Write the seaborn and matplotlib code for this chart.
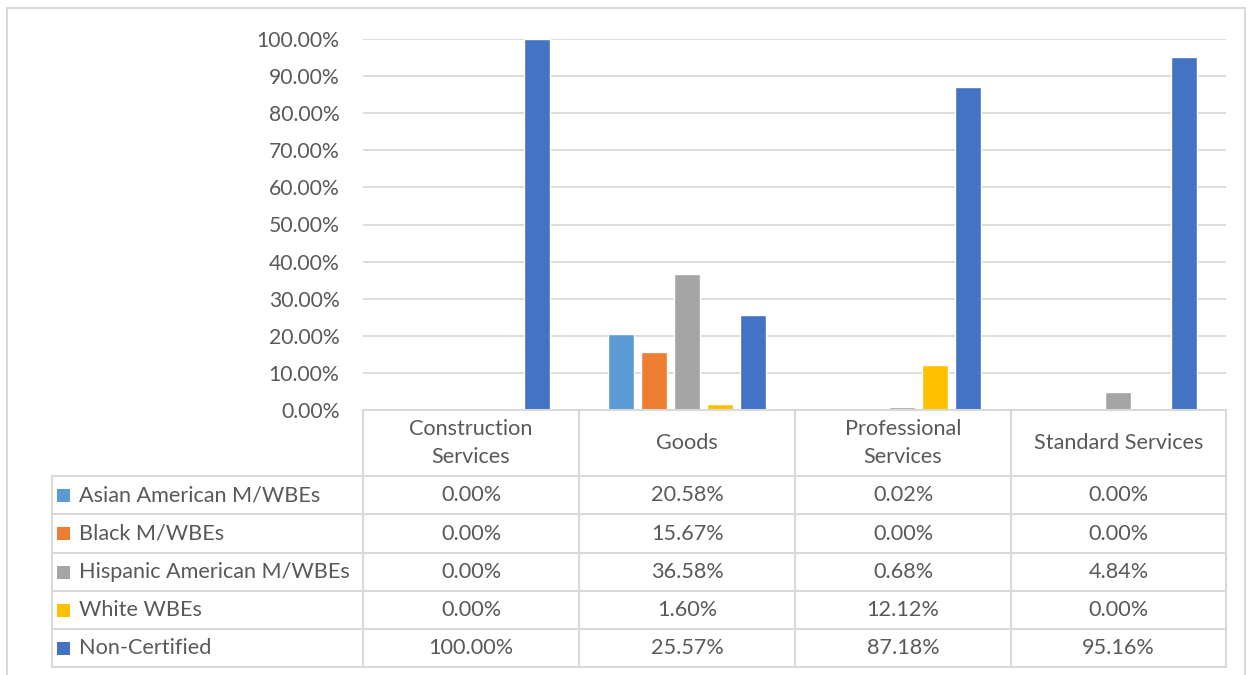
import matplotlib
matplotlib.use("Agg")
import matplotlib.pyplot as plt
from matplotlib.lines import Line2D
from matplotlib.patches import Rectangle
import seaborn as sns
import pandas as pd

# Spend share by work category and firm group
categories = ["Construction Services", "Goods", "Professional Services", "Standard Services"]
header_labels = ["Construction\nServices", "Goods", "Professional\nServices", "Standard Services"]
groups = ["Asian American M/WBEs", "Black M/WBEs", "Hispanic American M/WBEs", "White WBEs", "Non-Certified"]
asian_american = [0.00, 20.58, 0.02, 0.00]
black = [0.00, 15.67, 0.00, 0.00]
hispanic_american = [0.00, 36.58, 0.68, 4.84]
white_wbe = [0.00, 1.60, 12.12, 0.00]
non_certified = [100.00, 25.57, 87.18, 95.16]
y_ticks = [0, 10, 20, 30, 40, 50, 60, 70, 80, 90, 100]

colors = ["#5B9BD5", "#ED7D31", "#A5A5A5", "#FFC000", "#4472C4"]
text_color = "#595959"
line_color = "#D9D9D9"

series = [asian_american, black, hispanic_american, white_wbe, non_certified]
rows = []
for g, vals in zip(groups, series):
    for c, v in zip(categories, vals):
        rows.append({"Category": c, "Group": g, "Share": v})
df = pd.DataFrame(rows)

sns.set_theme(style="white")
plt.rcParams["font.family"] = ["Lato", "DejaVu Sans"]

W, H = 1252, 675
fig = plt.figure(figsize=(W / 100, H / 100), dpi=100)


def fx(px):
    return px / W


def fy(py):
    return 1 - py / H


ax_left, ax_right, ax_top, ax_bottom = 363, 1226, 39, 410
ax = fig.add_axes([fx(ax_left), fy(ax_bottom), fx(ax_right - ax_left), fy(ax_top) - fy(ax_bottom)])

sns.barplot(data=df, x="Category", y="Share", hue="Group", order=categories, hue_order=groups,
            palette=colors, width=0.764, gap=0.21, saturation=1, ax=ax, legend=False)

ax.set_ylim(0, 100)
ax.set_xlim(-0.5, len(categories) - 0.5)
ax.set_yticks(y_ticks)
ax.set_yticklabels([f"{t:.2f}%" for t in y_ticks])
ax.tick_params(axis="y", length=0, pad=17, labelsize=15.2, labelcolor=text_color)
ax.set_xticks([])
ax.set_xlabel("")
ax.set_ylabel("")
ax.yaxis.grid(True, color=line_color, linewidth=1.3)
ax.set_axisbelow(True)
for s in ax.spines.values():
    s.set_visible(False)

# Outer chart border
fig.patches.append(Rectangle((fx(7), fy(690)), fx(1245 - 7), fy(8) - fy(690),
                             transform=fig.transFigure, fill=False,
                             edgecolor=line_color, linewidth=1.5))

# Data table beneath the plot
col_edges = [363, 579, 795, 1011, 1226]
row_edges = [476, 514, 553, 591, 629, 667]
label_left = 52
header_top = 410
lw = 1.5


def hline(y, x0, x1):
    fig.add_artist(Line2D([fx(x0), fx(x1)], [fy(y), fy(y)], color=line_color, linewidth=lw))


def vline(x, y0, y1):
    fig.add_artist(Line2D([fx(x), fx(x)], [fy(y0), fy(y1)], color=line_color, linewidth=lw))


hline(header_top, col_edges[0], col_edges[-1])
for y in row_edges:
    hline(y, label_left, col_edges[-1])
for x in col_edges:
    vline(x, header_top, row_edges[-1])
vline(label_left, row_edges[0], row_edges[-1])

fs = 15.6
header_mid = (header_top + row_edges[0]) / 2
for i, lab in enumerate(header_labels):
    cx = (col_edges[i] + col_edges[i + 1]) / 2
    fig.text(fx(cx), fy(header_mid), lab, ha="center", va="center", fontsize=fs,
             color=text_color, linespacing=1.45)

for r, (g, vals, col) in enumerate(zip(groups, series, colors)):
    cy = (row_edges[r] + row_edges[r + 1]) / 2
    sq = 13
    fig.patches.append(Rectangle((fx(57), fy(cy + sq / 2)), fx(sq), fy(cy - sq / 2) - fy(cy + sq / 2),
                                 transform=fig.transFigure, facecolor=col, edgecolor="none"))
    fig.text(fx(79), fy(cy), g, ha="left", va="center", fontsize=fs, color=text_color)
    for i, v in enumerate(vals):
        cx = (col_edges[i] + col_edges[i + 1]) / 2
        fig.text(fx(cx), fy(cy), f"{v:.2f}%", ha="center", va="center", fontsize=fs, color=text_color)

fig.savefig("out.png", dpi=100, facecolor="white")
